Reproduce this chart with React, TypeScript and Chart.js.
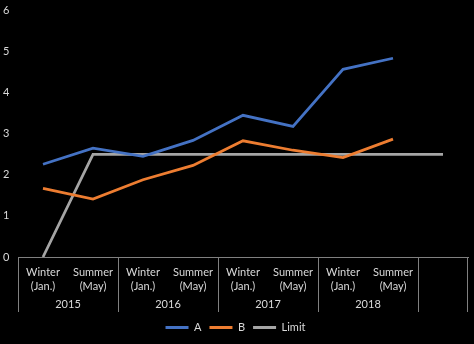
import React, { useEffect, useRef } from "react";
import { Chart, registerables } from "chart.js";

Chart.register(...registerables);

const seasonLabels: string[][] = [
  ["Winter", "(Jan.)"], ["Summer", "(May)"],
  ["Winter", "(Jan.)"], ["Summer", "(May)"],
  ["Winter", "(Jan.)"], ["Summer", "(May)"],
  ["Winter", "(Jan.)"], ["Summer", "(May)"],
  [""],
];
const yearLabels = ["2015", "2016", "2017", "2018", ""];
const seriesA = [2.26, 2.65, 2.45, 2.84, 3.45, 3.18, 4.57, 4.84, null];
const seriesB = [1.67, 1.41, 1.88, 2.23, 2.83, 2.6, 2.42, 2.87, null];
const seriesLimit = [0, 2.5, 2.5, 2.5, 2.5, 2.5, 2.5, 2.5, 2.5];
const yTicks = [0, 1, 2, 3, 4, 5, 6];

const FONT = "Lato, 'Open Sans', sans-serif";
const TEXT = "#d9d9d9";
const AXIS = "#808080";

const groupPlugin = {
  id: "groupAxis",
  afterDraw(chart: any) {
    const x = chart.scales.x;
    const area = chart.chartArea;
    const ctx = chart.ctx;
    const half = (x.getPixelForValue(1) - x.getPixelForValue(0)) / 2;
    ctx.save();
    ctx.strokeStyle = AXIS;
    ctx.lineWidth = 1;
    const top = area.bottom;
    const bottom = area.bottom + 55;
    yearLabels.forEach((yr, g) => {
      const i0 = g * 2;
      const left = x.getPixelForValue(i0) - half;
      ctx.beginPath();
      ctx.moveTo(Math.round(left) + 0.5, top);
      ctx.lineTo(Math.round(left) + 0.5, bottom);
      ctx.stroke();
      const last = Math.min(i0 + 1, seasonLabels.length - 1);
      const right = x.getPixelForValue(last) + half;
      if (g === yearLabels.length - 1) {
        ctx.beginPath();
        ctx.moveTo(Math.round(right) - 0.5, top);
        ctx.lineTo(Math.round(right) - 0.5, bottom);
        ctx.stroke();
      }
      if (yr) {
        ctx.fillStyle = TEXT;
        ctx.font = `11px ${FONT}`;
        ctx.textAlign = "center";
        ctx.textBaseline = "middle";
        ctx.fillText(yr, (left + right) / 2, area.bottom + 47);
      }
    });
    ctx.restore();
  },
};

const bgPlugin = {
  id: "bg",
  beforeDraw(chart: any) {
    const ctx = chart.ctx;
    ctx.save();
    ctx.fillStyle = "#000000";
    ctx.fillRect(0, 0, chart.width, chart.height);
    ctx.restore();
  },
};

export default function App() {
  const ref = useRef<HTMLCanvasElement>(null);
  useEffect(() => {
    document.body.style.margin = "0";
    document.body.style.background = "#000";
    const chart = new Chart(ref.current as HTMLCanvasElement, {
      type: "line",
      data: {
        labels: seasonLabels,
        datasets: [
          { label: "A", data: seriesA, borderColor: "#4472C4", backgroundColor: "#4472C4", borderWidth: 2.75, pointRadius: 0, tension: 0 },
          { label: "B", data: seriesB, borderColor: "#ED7D31", backgroundColor: "#ED7D31", borderWidth: 2.75, pointRadius: 0, tension: 0 },
          { label: "Limit", data: seriesLimit, borderColor: "#A5A5A5", backgroundColor: "#A5A5A5", borderWidth: 2.75, pointRadius: 0, tension: 0 },
        ],
      },
      options: {
        animation: false,
        responsive: false,
        maintainAspectRatio: false,
        layout: { padding: { left: 3, right: 6, top: 10, bottom: 1 } },
        plugins: {
          legend: {
            position: "bottom",
            labels: {
              color: TEXT,
              font: { family: FONT, size: 11 },
              boxWidth: 23,
              boxHeight: 3,
              padding: 8,
              generateLabels: (chart: any) =>
                chart.data.datasets.map((d: any, i: number) => ({
                  text: d.label,
                  fillStyle: d.borderColor,
                  strokeStyle: d.borderColor,
                  lineWidth: 0,
                  fontColor: TEXT,
                  datasetIndex: i,
                  hidden: false,
                })),
            },
          },
          tooltip: { enabled: false },
        },
        scales: {
          x: {
            type: "category",
            offset: true,
            grid: { display: false },
            border: { display: true, color: AXIS, width: 1 },
            ticks: {
              color: TEXT,
              font: { family: FONT, size: 11, lineHeight: 1.25 },
              maxRotation: 0,
              autoSkip: false,
              padding: 1,
            },
            afterFit: (s: any) => { s.height = 57; },
          },
          y: {
            min: 0,
            max: 6,
            afterBuildTicks: (s: any) => { s.ticks = yTicks.map((v) => ({ value: v })); },
            grid: { display: false },
            border: { display: false },
            ticks: {
              color: TEXT,
              font: { family: FONT, size: 11 },
              crossAlign: "far",
              padding: 4,
            },
            afterFit: (s: any) => { s.width = 15; },
          },
        },
      },
      plugins: [bgPlugin, groupPlugin],
    });
    return () => chart.destroy();
  }, []);
  return (
    <div style={{ width: 474, height: 344, background: "#000" }}>
      <canvas ref={ref} width={474} height={344} style={{ display: "block" }} />
    </div>
  );
}
